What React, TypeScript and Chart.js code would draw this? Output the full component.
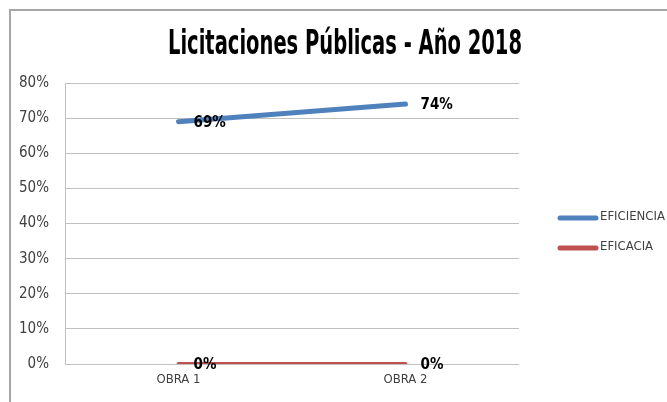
import React, { useEffect, useRef } from "react";
import { Chart, registerables } from "chart.js";

Chart.register(...registerables);

const TITLE = "Licitaciones Públicas - Año 2018";
const categories = ["OBRA 1", "OBRA 2"];
const eficiencia = [69, 74];
const eficacia = [0, 0];
const seriesNames = ["EFICIENCIA", "EFICACIA"];
const seriesColors = ["#4F81BD", "#C0504D"];
const yTicksMax = 80;
const yStep = 10;

const FONT = "'DejaVu Sans Condensed', 'Liberation Sans Narrow', sans-serif";

const extras = {
  id: "extras",
  afterDatasetsDraw(chart: any) {
    const ctx = chart.ctx;
    ctx.save();
    // outer frame
    ctx.strokeStyle = "#a6a6a6";
    ctx.lineWidth = 2;
    ctx.beginPath();
    ctx.moveTo(10, chart.height);
    ctx.lineTo(10, 10);
    ctx.lineTo(chart.width, 10);
    ctx.stroke();
    // title (condensed)
    ctx.save();
    ctx.fillStyle = "#000";
    ctx.font = `bold 34px ${FONT}`;
    ctx.textAlign = "center";
    ctx.textBaseline = "middle";
    const w = ctx.measureText(TITLE).width;
    const sx = 354 / w;
    ctx.translate(345, 45);
    ctx.scale(sx, 1);
    ctx.fillText(TITLE, 0, 0);
    ctx.restore();
    // data labels
    ctx.fillStyle = "#000";
    ctx.font = `bold 15px ${FONT}`;
    ctx.textAlign = "left";
    ctx.textBaseline = "middle";
    chart.data.datasets.forEach((ds: any, i: number) => {
      const meta = chart.getDatasetMeta(i);
      meta.data.forEach((pt: any, j: number) => {
        ctx.fillText(`${ds.data[j]}%`, pt.x + 15, pt.y + 1);
      });
    });
    // legend
    const lx = 558;
    const ys = [218, 248];
    chart.data.datasets.forEach((ds: any, i: number) => {
      ctx.strokeStyle = ds.borderColor;
      ctx.lineWidth = 5;
      ctx.lineCap = "round";
      ctx.beginPath();
      ctx.moveTo(lx + 2, ys[i]);
      ctx.lineTo(lx + 38, ys[i]);
      ctx.stroke();
      ctx.fillStyle = "#404040";
      ctx.font = `13px ${FONT}`;
      ctx.fillText(ds.label, lx + 42, ys[i] - 1);
    });
    ctx.restore();
  },
};

export default function App() {
  const ref = useRef<HTMLCanvasElement>(null);
  useEffect(() => {
    const chart = new Chart(ref.current as HTMLCanvasElement, {
      type: "line",
      data: {
        labels: categories,
        datasets: [
          {
            label: seriesNames[0],
            data: eficiencia,
            borderColor: seriesColors[0],
            backgroundColor: seriesColors[0],
            borderWidth: 5,
            borderCapStyle: "round",
            pointRadius: 0,
            tension: 0,
          },
          {
            label: seriesNames[1],
            data: eficacia,
            borderColor: seriesColors[1],
            backgroundColor: seriesColors[1],
            borderWidth: 4,
            borderCapStyle: "round",
            pointRadius: 0,
            tension: 0,
          },
        ],
      },
      options: {
        animation: false,
        responsive: false,
        maintainAspectRatio: false,
        layout: { padding: { left: 0, right: 148, top: 83, bottom: 0 } },
        plugins: {
          legend: { display: false },
          tooltip: { enabled: false },
          title: { display: false },
        },
        scales: {
          x: {
            offset: true,
            grid: { display: false, drawTicks: false },
            border: { display: false },
            ticks: { color: "#404040", font: { family: FONT, size: 13 }, padding: 8 },
            afterFit: (s: any) => {
              s.height = 38;
            },
          },
          y: {
            min: 0,
            max: yTicksMax,
            ticks: {
              stepSize: yStep,
              color: "#404040",
              font: { family: FONT, size: 15 },
              padding: 16,
              callback: (v: any) => `${v}%`,
            },
            grid: { color: "#c0c0c0", lineWidth: 1, drawTicks: false },
            border: { display: true, color: "#c0c0c0" },
            afterFit: (s: any) => {
              s.width = 65;
            },
          },
        },
      },
      plugins: [extras],
    });
    return () => chart.destroy();
  }, []);
  return (
    <div style={{ position: "fixed", left: 0, top: 0, width: 667, height: 402, background: "#fff" }}>
      <canvas ref={ref} width={667} height={402} style={{ display: "block" }} />
    </div>
  );
}
